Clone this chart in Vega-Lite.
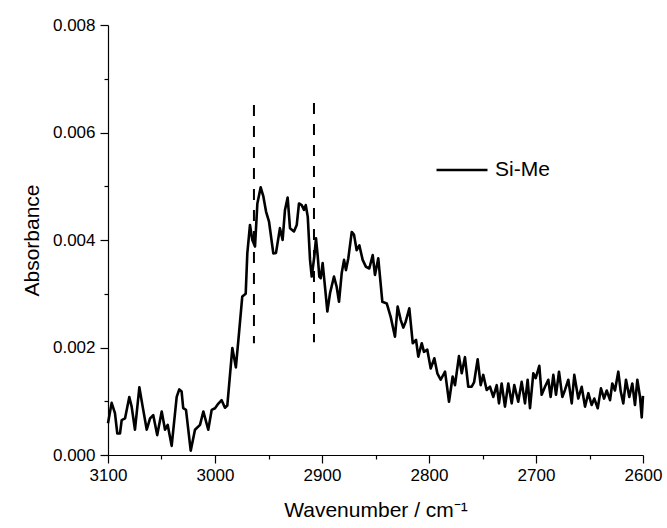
{
  "$schema": "https://vega.github.io/schema/vega-lite/v6.json",
  "width": 535,
  "height": 430,
  "autosize": {"type": "none"},
  "padding": {"left": 108, "top": 25, "right": 24, "bottom": 73},
  "background": "white",
  "config": {
    "view": {"stroke": null},
    "font": "Liberation Sans",
    "axis": {
      "domainColor": "black",
      "domainWidth": 1.2,
      "tickColor": "black",
      "tickWidth": 1.2,
      "labelColor": "black",
      "titleColor": "black",
      "labelFont": "Liberation Sans",
      "titleFont": "Liberation Sans",
      "labelFontSize": 17,
      "titleFontSize": 21,
      "titleFontWeight": "normal",
      "grid": false
    }
  },
  "datasets": {
    "spectrum": [
      {"wn": 3100.0, "abs": 0.00059}, {"wn": 3096.6, "abs": 0.00097}, {"wn": 3093.5, "abs": 0.00078},
      {"wn": 3091.3, "abs": 0.00040}, {"wn": 3088.8, "abs": 0.00040}, {"wn": 3087.2, "abs": 0.00065},
      {"wn": 3084.1, "abs": 0.00068}, {"wn": 3080.1, "abs": 0.00108}, {"wn": 3077.9, "abs": 0.00090},
      {"wn": 3074.8, "abs": 0.00047}, {"wn": 3070.7, "abs": 0.00126}, {"wn": 3067.6, "abs": 0.00090},
      {"wn": 3063.8, "abs": 0.00047}, {"wn": 3060.7, "abs": 0.00068}, {"wn": 3057.7, "abs": 0.00074},
      {"wn": 3054.0, "abs": 0.00037}, {"wn": 3049.8, "abs": 0.00081}, {"wn": 3046.7, "abs": 0.00047},
      {"wn": 3044.2, "abs": 0.00056}, {"wn": 3040.5, "abs": 0.00017}, {"wn": 3035.8, "abs": 0.00108},
      {"wn": 3033.4, "abs": 0.00122}, {"wn": 3031.2, "abs": 0.00118}, {"wn": 3029.7, "abs": 0.00087},
      {"wn": 3027.1, "abs": 0.00084}, {"wn": 3022.7, "abs": 0.00008}, {"wn": 3018.7, "abs": 0.00047},
      {"wn": 3014.0, "abs": 0.00056}, {"wn": 3010.9, "abs": 0.00081}, {"wn": 3006.3, "abs": 0.00047},
      {"wn": 3003.1, "abs": 0.00084}, {"wn": 3000.0, "abs": 0.00087}, {"wn": 2997.5, "abs": 0.00094},
      {"wn": 2993.8, "abs": 0.00102}, {"wn": 2990.7, "abs": 0.00088}, {"wn": 2988.5, "abs": 0.00092},
      {"wn": 2983.8, "abs": 0.00199}, {"wn": 2980.5, "abs": 0.00163}, {"wn": 2977.6, "abs": 0.00226},
      {"wn": 2974.5, "abs": 0.00295}, {"wn": 2971.3, "abs": 0.00300}, {"wn": 2969.8, "abs": 0.00375},
      {"wn": 2967.3, "abs": 0.00428}, {"wn": 2965.1, "abs": 0.00400}, {"wn": 2962.6, "abs": 0.00388},
      {"wn": 2960.4, "abs": 0.00468}, {"wn": 2957.3, "abs": 0.00498}, {"wn": 2954.8, "abs": 0.00481},
      {"wn": 2952.3, "abs": 0.00453}, {"wn": 2949.5, "abs": 0.00434}, {"wn": 2945.5, "abs": 0.00375},
      {"wn": 2943.0, "abs": 0.00376}, {"wn": 2939.3, "abs": 0.00422}, {"wn": 2936.8, "abs": 0.00400},
      {"wn": 2934.6, "abs": 0.00456}, {"wn": 2932.1, "abs": 0.00479}, {"wn": 2929.9, "abs": 0.00422},
      {"wn": 2926.2, "abs": 0.00416}, {"wn": 2923.6, "abs": 0.00428}, {"wn": 2921.5, "abs": 0.00468},
      {"wn": 2919.0, "abs": 0.00465}, {"wn": 2916.8, "abs": 0.00456}, {"wn": 2915.2, "abs": 0.00465},
      {"wn": 2913.3, "abs": 0.00443}, {"wn": 2911.2, "abs": 0.00363}, {"wn": 2909.6, "abs": 0.00332},
      {"wn": 2907.2, "abs": 0.00369}, {"wn": 2905.6, "abs": 0.00403}, {"wn": 2904.0, "abs": 0.00370},
      {"wn": 2902.5, "abs": 0.00332}, {"wn": 2901.2, "abs": 0.00329}, {"wn": 2899.4, "abs": 0.00357},
      {"wn": 2897.2, "abs": 0.00313}, {"wn": 2895.0, "abs": 0.00267}, {"wn": 2892.5, "abs": 0.00301},
      {"wn": 2888.8, "abs": 0.00332}, {"wn": 2886.3, "abs": 0.00313}, {"wn": 2884.1, "abs": 0.00285},
      {"wn": 2881.6, "abs": 0.00338}, {"wn": 2879.4, "abs": 0.00363}, {"wn": 2877.6, "abs": 0.00344},
      {"wn": 2875.4, "abs": 0.00366}, {"wn": 2872.2, "abs": 0.00415}, {"wn": 2870.1, "abs": 0.00410},
      {"wn": 2867.6, "abs": 0.00381}, {"wn": 2865.1, "abs": 0.00390}, {"wn": 2862.0, "abs": 0.00363},
      {"wn": 2858.9, "abs": 0.00350}, {"wn": 2855.8, "abs": 0.00347}, {"wn": 2852.6, "abs": 0.00372},
      {"wn": 2850.5, "abs": 0.00335}, {"wn": 2847.4, "abs": 0.00366}, {"wn": 2843.6, "abs": 0.00285},
      {"wn": 2839.5, "abs": 0.00282}, {"wn": 2835.8, "abs": 0.00257}, {"wn": 2831.8, "abs": 0.00220},
      {"wn": 2829.3, "abs": 0.00276}, {"wn": 2826.4, "abs": 0.00251}, {"wn": 2824.0, "abs": 0.00237},
      {"wn": 2821.8, "abs": 0.00248}, {"wn": 2818.4, "abs": 0.00273}, {"wn": 2815.2, "abs": 0.00208},
      {"wn": 2812.1, "abs": 0.00214}, {"wn": 2810.0, "abs": 0.00183}, {"wn": 2806.8, "abs": 0.00208},
      {"wn": 2804.7, "abs": 0.00192}, {"wn": 2801.6, "abs": 0.00196}, {"wn": 2798.4, "abs": 0.00161},
      {"wn": 2795.0, "abs": 0.00180}, {"wn": 2792.2, "abs": 0.00152}, {"wn": 2789.1, "abs": 0.00140},
      {"wn": 2785.0, "abs": 0.00155}, {"wn": 2781.3, "abs": 0.00099}, {"wn": 2777.9, "abs": 0.00146},
      {"wn": 2775.7, "abs": 0.00130}, {"wn": 2772.0, "abs": 0.00184}, {"wn": 2769.4, "abs": 0.00152},
      {"wn": 2766.4, "abs": 0.00182}, {"wn": 2763.3, "abs": 0.00127}, {"wn": 2760.1, "abs": 0.00127},
      {"wn": 2757.9, "abs": 0.00135}, {"wn": 2754.5, "abs": 0.00178}, {"wn": 2751.7, "abs": 0.00130},
      {"wn": 2749.3, "abs": 0.00149}, {"wn": 2746.1, "abs": 0.00121}, {"wn": 2743.0, "abs": 0.00127},
      {"wn": 2739.9, "abs": 0.00108}, {"wn": 2736.7, "abs": 0.00130}, {"wn": 2734.6, "abs": 0.00096},
      {"wn": 2732.1, "abs": 0.00133}, {"wn": 2729.0, "abs": 0.00090}, {"wn": 2725.9, "abs": 0.00133},
      {"wn": 2722.7, "abs": 0.00096}, {"wn": 2720.3, "abs": 0.00130}, {"wn": 2716.6, "abs": 0.00099},
      {"wn": 2713.4, "abs": 0.00136}, {"wn": 2710.3, "abs": 0.00096}, {"wn": 2707.8, "abs": 0.00140},
      {"wn": 2705.6, "abs": 0.00087}, {"wn": 2702.5, "abs": 0.00152}, {"wn": 2700.3, "abs": 0.00143},
      {"wn": 2696.9, "abs": 0.00166}, {"wn": 2694.7, "abs": 0.00112}, {"wn": 2691.6, "abs": 0.00127},
      {"wn": 2688.5, "abs": 0.00140}, {"wn": 2686.3, "abs": 0.00108}, {"wn": 2683.8, "abs": 0.00149},
      {"wn": 2681.3, "abs": 0.00112}, {"wn": 2678.5, "abs": 0.00155}, {"wn": 2675.4, "abs": 0.00108},
      {"wn": 2672.9, "abs": 0.00121}, {"wn": 2669.8, "abs": 0.00140}, {"wn": 2666.6, "abs": 0.00096},
      {"wn": 2664.2, "abs": 0.00149}, {"wn": 2660.5, "abs": 0.00105}, {"wn": 2657.3, "abs": 0.00127},
      {"wn": 2654.2, "abs": 0.00090}, {"wn": 2651.1, "abs": 0.00115}, {"wn": 2648.0, "abs": 0.00093},
      {"wn": 2645.5, "abs": 0.00105}, {"wn": 2642.3, "abs": 0.00087}, {"wn": 2639.3, "abs": 0.00124},
      {"wn": 2636.4, "abs": 0.00105}, {"wn": 2633.9, "abs": 0.00120}, {"wn": 2630.8, "abs": 0.00102},
      {"wn": 2628.7, "abs": 0.00133}, {"wn": 2626.2, "abs": 0.00120}, {"wn": 2623.1, "abs": 0.00155},
      {"wn": 2620.8, "abs": 0.00118}, {"wn": 2618.4, "abs": 0.00096}, {"wn": 2615.9, "abs": 0.00140},
      {"wn": 2612.8, "abs": 0.00108}, {"wn": 2610.0, "abs": 0.00133}, {"wn": 2607.5, "abs": 0.00093},
      {"wn": 2605.3, "abs": 0.00140}, {"wn": 2602.8, "abs": 0.00108}, {"wn": 2601.2, "abs": 0.00070},
      {"wn": 2600.0, "abs": 0.00110}
    ],
    "markers": [
      {"wn": 2963.6, "top": 0.00651, "bottom": 0.00208},
      {"wn": 2907.5, "top": 0.00655, "bottom": 0.00210}
    ]
  },
  "layer": [
    {
      "data": {"name": "markers"},
      "mark": {"type": "rule", "color": "black", "strokeWidth": 2, "strokeDash": [11, 10]},
      "encoding": {
        "x": {"field": "wn", "type": "quantitative"},
        "y": {"field": "top", "type": "quantitative"},
        "y2": {"field": "bottom"}
      }
    },
    {
      "data": {"name": "spectrum"},
      "mark": {"type": "line", "strokeWidth": 2.6, "strokeJoin": "round", "interpolate": "linear"},
      "encoding": {
        "x": {
          "field": "wn",
          "type": "quantitative",
          "scale": {"domain": [2600, 3100], "reverse": true, "nice": false, "zero": false},
          "axis": {
            "title": "Wavenumber / cm⁻¹",
            "values": [3100, 3050, 3000, 2950, 2900, 2850, 2800, 2750, 2700, 2650, 2600],
            "format": "d",
            "labelExpr": "datum.value % 100 === 0 ? datum.label : ''",
            "tickSize": {"condition": {"test": "datum.value % 100 === 0", "value": 8}, "value": 4},
            "labelPadding": 4,
            "titlePadding": 16,
            "labelFlush": false
          }
        },
        "y": {
          "field": "abs",
          "type": "quantitative",
          "scale": {"domain": [0, 0.008], "nice": false},
          "axis": {
            "title": "Absorbance",
            "values": [0, 0.001, 0.002, 0.003, 0.004, 0.005, 0.006, 0.007, 0.008],
            "format": ".3f",
            "labelExpr": "round(datum.value * 1000) % 2 === 0 ? datum.label : ''",
            "tickSize": {"condition": {"test": "round(datum.value * 1000) % 2 === 0", "value": 8}, "value": 4},
            "labelPadding": 5,
            "titlePadding": 10,
            "labelFlush": false
          }
        },
        "color": {
          "datum": "Si-Me",
          "type": "nominal",
          "scale": {"range": ["black"]},
          "legend": {
            "title": null,
            "orient": "none",
            "legendX": 327,
            "legendY": 118,
            "symbolType": "stroke",
            "symbolSize": 2600,
            "symbolStrokeWidth": 2.6,
            "labelFontSize": 21,
            "labelFont": "Liberation Sans",
            "labelColor": "black",
            "labelOffset": 6
          }
        }
      }
    }
  ]
}
